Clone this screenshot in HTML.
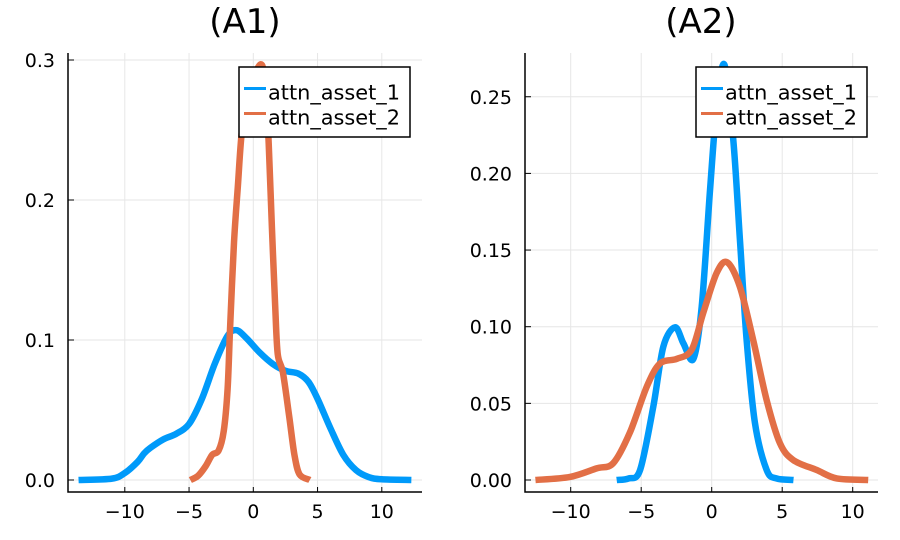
<!DOCTYPE html>
<html><head><meta charset="utf-8"><style>
html,body{margin:0;padding:0;background:#fff;}
svg{display:block;font-family:"DejaVu Sans","Liberation Sans",sans-serif;}
</style></head><body>
<svg id="chart" width="900" height="540" viewBox="0 0 900 540" xmlns="http://www.w3.org/2000/svg"></svg>
<script>
// Panel A1 data
const a1XTicks = [-10, -5, 0, 5, 10];
const a1YTicks = [0, 0.1, 0.2, 0.3];
const a1YTickLabels = ["0.0", "0.1", "0.2", "0.3"];
const a1Asset1X = [-13.6,-11,-10,-9,-8.5,-8,-7,-6,-5,-4,-3,-2,-1.3,-0.5,0.5,1.5,2.5,3.5,4.3,5,6,7,8,9,10,12.3];
const a1Asset1Y = [0,0.001,0.005,0.013,0.019,0.023,0.029,0.033,0.04,0.058,0.083,0.103,0.107,0.101,0.091,0.083,0.078,0.076,0.07,0.058,0.037,0.018,0.007,0.002,0.0005,0];
const a1Asset2X = [-4.9,-4.3,-3.7,-3.2,-2.7,-2.3,-2.0,-1.8,-1.5,-1.2,-0.9,-0.4,0.2,0.7,1.0,1.2,1.45,1.7,1.9,2.3,2.8,3.2,3.6,4.4];
const a1Asset2Y = [0,0.003,0.01,0.018,0.021,0.035,0.065,0.11,0.17,0.21,0.248,0.278,0.292,0.296,0.275,0.24,0.18,0.125,0.09,0.077,0.045,0.018,0.004,0];
// Panel A2 data
const a2XTicks = [-10, -5, 0, 5, 10];
const a2YTicks = [0, 0.05, 0.10, 0.15, 0.20, 0.25];
const a2YTickLabels = ["0.00", "0.05", "0.10", "0.15", "0.20", "0.25"];
const a2Asset1X = [-6.74,-5.9,-5.08,-4.14,-3.43,-2.6,-2.0,-1.3,-0.71,-0.12,0.35,0.9,1.53,2.0,2.48,3.07,3.9,4.6,5.8];
const a2Asset1Y = [0,0.001,0.0065,0.048,0.087,0.0996,0.089,0.079,0.113,0.189,0.243,0.271,0.222,0.157,0.091,0.037,0.0065,0.001,0];
const a2Asset2X = [-12.5,-10.05,-8.16,-6.98,-5.8,-4.6,-3.67,-2.48,-1.42,-0.6,0.35,1.1,2.0,2.95,3.9,4.84,5.79,7.45,8.87,11.1];
const a2Asset2Y = [0,0.002,0.0076,0.011,0.031,0.061,0.076,0.079,0.085,0.109,0.135,0.142,0.126,0.091,0.052,0.024,0.013,0.0065,0.001,0];
const seriesNames = ["attn_asset_1", "attn_asset_2"];
const colors = ["#009AFA", "#E26F46"];

const NS = "http://www.w3.org/2000/svg";
const svg = document.getElementById("chart");
function mk(tag, attrs, parent) {
  const e = document.createElementNS(NS, tag);
  for (const k in attrs) e.setAttribute(k, attrs[k]);
  (parent || svg).appendChild(e);
  return e;
}
function smoothPath(pts) {
  let d = "M" + pts[0][0].toFixed(2) + "," + pts[0][1].toFixed(2);
  for (let i = 0; i < pts.length - 1; i++) {
    const p0 = pts[Math.max(0, i - 1)], p1 = pts[i], p2 = pts[i + 1], p3 = pts[Math.min(pts.length - 1, i + 2)];
    const t = 0.16;
    const c1x = p1[0] + (p2[0] - p0[0]) * t, c1y = p1[1] + (p2[1] - p0[1]) * t;
    const c2x = p2[0] - (p3[0] - p1[0]) * t, c2y = p2[1] - (p3[1] - p1[1]) * t;
    d += " C" + c1x.toFixed(2) + "," + c1y.toFixed(2) + " " + c2x.toFixed(2) + "," + c2y.toFixed(2) + " " + p2[0].toFixed(2) + "," + p2[1].toFixed(2);
  }
  return d;
}

function panel(cfg) {
  const g = mk("g", {});
  
  
  const sx = v => cfg.x0 + v * cfg.kx;
  const sy = v => cfg.y0 - v * cfg.ky;
  cfg.xTicks.forEach(t => {
    const l = mk("line", {x1: sx(t), x2: sx(t), y1: cfg.top, y2: cfg.bottom, stroke: "#e6e6e6", "stroke-width": 1}, g);
    
    
  });
  cfg.yTicks.forEach(t => {
    const l = mk("line", {x1: cfg.left, x2: cfg.right, y1: sy(t), y2: sy(t), stroke: "#e6e6e6", "stroke-width": 1}, g);
    
    
  });
  cfg.series.forEach((s, i) => {
    const pts = s.x.map((v, j) => [sx(v), sy(s.y[j])]);
    const p = mk("path", {d: smoothPath(pts), fill: "none", stroke: colors[i], "stroke-width": 6.5, "stroke-linejoin": "round", "stroke-linecap": "butt"}, g);
    
    
  });
  const ax = mk("path", {d: `M${cfg.left},${cfg.top} V${cfg.bottom} H${cfg.right}`, fill: "none", stroke: "#000", "stroke-width": 1.5}, g);
  
  
  cfg.xTicks.forEach(t => {
    mk("line", {x1: sx(t), x2: sx(t), y1: cfg.bottom, y2: cfg.bottom - 5, stroke: "#000", "stroke-width": 1}, g);
    const tx = mk("text", {x: sx(t), y: 518, "text-anchor": "middle", "font-size": 19, fill: "#000"}, g);
    tx.textContent = t < 0 ? "\u2212" + Math.abs(t) : String(t);
    
    
  });
  cfg.yTicks.forEach((t, i) => {
    mk("line", {x1: cfg.left, x2: cfg.left + 6, y1: sy(t), y2: sy(t), stroke: "#000", "stroke-width": 1}, g);
    const tx = mk("text", {x: cfg.left - 13, y: sy(t) + 7, "text-anchor": "end", "font-size": 19, fill: "#000"}, g);
    tx.textContent = cfg.yLabels[i];
    
    
  });
  const ti = mk("text", {x: cfg.titleX, y: 33, "text-anchor": "middle", "font-size": 34, fill: "#000"}, g);
  ti.textContent = cfg.title;
  
  
  const lg = mk("g", {}, g);
  
  
  mk("rect", {x: cfg.legX, y: 67, width: cfg.legW, height: 70, fill: "#fff", stroke: "#000", "stroke-width": 1.5}, lg);
  seriesNames.forEach((n, i) => {
    const y = 88.5 + i * 25;
    mk("line", {x1: cfg.legX + 5, x2: cfg.legX + 27, y1: y, y2: y, stroke: colors[i], "stroke-width": 3}, lg);
    const tx = mk("text", {x: cfg.legX + 29, y: y + 11, "font-size": 20, fill: "#000", textLength: 132, lengthAdjust: "spacingAndGlyphs"}, lg);
    tx.textContent = n;
    
    
  });
}

panel({name: "panel-a1", title: "(A1)", titleX: 245, x0: 253.3, kx: 12.85, y0: 480, ky: 1400,
  left: 68, right: 422, top: 53, bottom: 492, xTicks: a1XTicks, yTicks: a1YTicks, yLabels: a1YTickLabels,
  legX: 239, legW: 171,
  series: [{x: a1Asset1X, y: a1Asset1Y}, {x: a1Asset2X, y: a1Asset2Y}]});
panel({name: "panel-a2", title: "(A2)", titleX: 701, x0: 711.7, kx: 14.1, y0: 480, ky: 1533,
  left: 525, right: 878, top: 53, bottom: 492, xTicks: a2XTicks, yTicks: a2YTicks, yLabels: a2YTickLabels,
  legX: 696, legW: 171,
  series: [{x: a2Asset1X, y: a2Asset1Y}, {x: a2Asset2X, y: a2Asset2Y}]});
</script>
</body></html>
